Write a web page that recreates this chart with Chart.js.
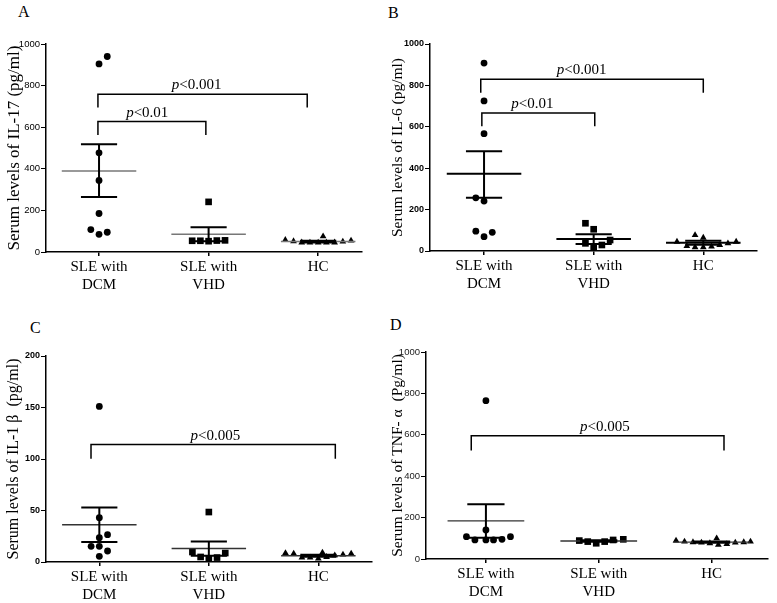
<!DOCTYPE html>
<html>
<head>
<meta charset="utf-8">
<script src="https://cdn.jsdelivr.net/npm/chart.js@4.4.1/dist/chart.umd.min.js"></script>
<style>
  body { margin: 0; background: #fff; width: 777px; height: 603px; overflow: hidden; position: relative; }
  canvas { position: absolute; }
  .tag { position: absolute; font: 16px/1 "Liberation Serif", serif; color: #000; }
</style>
</head>
<body>
<div class="tag" style="left:18px;top:4px">A</div>
<div class="tag" style="left:388px;top:5px">B</div>
<div class="tag" style="left:30px;top:320px">C</div>
<div class="tag" style="left:390px;top:317px">D</div>
<canvas id="panel-a" width="385" height="300" style="left:0;top:0"></canvas>
<canvas id="panel-b" width="392" height="300" style="left:385px;top:0"></canvas>
<canvas id="panel-c" width="385" height="303" style="left:0;top:300px"></canvas>
<canvas id="panel-d" width="392" height="303" style="left:385px;top:300px"></canvas>
<script>
// group labels on the x axis
const groups = [['SLE with', 'DCM'], ['SLE with', 'VHD'], ['HC']];

// A - IL-17 (pg/ml)
const il17Dcm = [904, 940, 477, 344, 185, 108, 85, 95];
const il17DcmSlot = [0, 1, 0, 0, 0, -1, 0, 1];
const il17Vhd = [241, 54, 54, 52, 55, 56];
const il17VhdSlot = [0, -2, -1, 0, 1, 2];
const il17Hc = [58, 52, 46, 45, 45, 75, 45, 46, 50, 55];
const il17HcSlot = [-4, -3, -2, -1, 0, 0.6, 1, 2, 3, 4];
const il17Mean = [389, 85, 50];
const il17Sem = [[265, 518], [52, 119], [46, 54]];

// B - IL-6 (pg/ml)
const il6Dcm = [908, 725, 567, 257, 241, 96, 69, 90];
const il6DcmSlot = [0, 0, 0, -1, 0, -1, 0, 1];
const il6Vhd = [134, 105, 53, 37, 13, 29];
const il6VhdSlot = [-1, 0, 2, -1, 0, 1];
const il6Hc = [45, 24, 77, 18, 64, 18, 21, 29, 37, 45];
const il6HcSlot = [-3.2, -2, -1, -1, 0, 0, 1, 2, 3, 4];
const il6Mean = [373, 58, 40];
const il6Sem = [[257, 482], [34, 81], [30, 50]];

// C - IL-1 beta (pg/ml)
const il1Dcm = [151, 43, 23.6, 26.5, 15.2, 15.2, 10.7, 5.5];
const il1DcmSlot = [0, 0, 0, 1, -1, 0, 1, 0];
const il1Vhd = [48.5, 9.7, 4.9, 3.3, 4.3, 8.7];
const il1VhdSlot = [0, -2, -1, 0, 1, 2];
const il1Hc = [8.7, 8.1, 4.3, 4.3, 3.3, 9.1, 4.9, 6.5, 7.2, 8.1];
const il1HcSlot = [-4, -3, -2, -1, 0, 0.5, 1, 2, 3, 4];
const il1Mean = [36.2, 13, 6];
const il1Sem = [[19.4, 53], [6, 20], [5, 7]];

// D - TNF-alpha (pg/ml)
const tnfDcm = [765, 140, 108, 92, 92, 92, 95, 108];
const tnfDcmSlot = [0, 0, -2.3, -1.3, 0, 0.9, 1.9, 2.9];
const tnfVhd = [89, 84, 76, 84, 92, 95];
const tnfVhdSlot = [-2.3, -1.3, -0.3, 0.7, 1.7, 2.9];
const tnfHc = [89, 84, 81, 79, 76, 100, 68, 72, 79, 81, 84];
const tnfHcSlot = [-4.2, -3.2, -2.2, -1.2, -0.2, 0.6, 0.8, 1.8, 2.8, 3.8, 4.6];
const tnfMean = [184, 87, 82];
const tnfSem = [[103, 265], [83, 91], [79, 85]];

const SERIF = '"Liberation Serif", "Times New Roman", serif';
const SANS = '"Liberation Sans", Arial, sans-serif';

// mean line + SEM whiskers, drawn on top of the points
const meanSem = {
    id: 'meanSem',
    afterDatasetsDraw(chart, args, o) {
        const { ctx, scales: { x, y } } = chart;
        ctx.save();
        o.mean.forEach((m, g) => {
            const c = g + 1;
            const ym = y.getPixelForValue(m);
            ctx.strokeStyle = o.meanColor;
            ctx.lineWidth = o.meanWidth;
            ctx.beginPath();
            ctx.moveTo(x.getPixelForValue(c - 0.34), ym);
            ctx.lineTo(x.getPixelForValue(c + 0.34), ym);
            ctx.stroke();

            const [lo, hi] = o.sem[g];
            const xc = x.getPixelForValue(c);
            const xl = x.getPixelForValue(c - 0.165);
            const xr = x.getPixelForValue(c + 0.165);
            ctx.strokeStyle = '#000';
            ctx.lineWidth = 2;
            ctx.beginPath();
            ctx.moveTo(xc, y.getPixelForValue(lo));
            ctx.lineTo(xc, y.getPixelForValue(hi));
            [lo, hi].forEach(v => {
                ctx.moveTo(xl, y.getPixelForValue(v));
                ctx.lineTo(xr, y.getPixelForValue(v));
            });
            ctx.stroke();
        });
        ctx.restore();
    }
};

// significance brackets with "p<..." labels
const brackets = {
    id: 'brackets',
    afterDraw(chart, args, o) {
        const { ctx, scales: { x, y } } = chart;
        ctx.save();
        ctx.strokeStyle = '#000';
        ctx.lineWidth = 1.5;
        ctx.fillStyle = '#000';
        o.list.forEach(b => {
            const x1 = x.getPixelForValue(b.x1), x2 = x.getPixelForValue(b.x2);
            const yb = y.getPixelForValue(b.y), yl = y.getPixelForValue(b.leg);
            ctx.beginPath();
            ctx.moveTo(x1, yl);
            ctx.lineTo(x1, yb);
            ctx.lineTo(x2, yb);
            ctx.lineTo(x2, yl);
            ctx.stroke();

            const rest = '<' + b.p;
            ctx.font = 'italic 15px ' + SERIF;
            const wp = ctx.measureText('p').width;
            ctx.font = '15px ' + SERIF;
            const wr = ctx.measureText(rest).width;
            const left = x.getPixelForValue(b.tx) - (wp + wr) / 2;
            ctx.textBaseline = 'alphabetic';
            ctx.textAlign = 'left';
            ctx.font = 'italic 15px ' + SERIF;
            ctx.fillText('p', left, yb - 5);
            ctx.font = '15px ' + SERIF;
            ctx.fillText(rest, left + wp, yb - 5);
        });
        ctx.restore();
    }
};

function makePanel(id, p) {
    const shapes = ['circle', 'rect', 'triangle'];
    const radii = [3.4, 4.7, 3.9];
    const datasets = p.values.map((vals, g) => ({
        data: vals.map((v, i) => ({ x: g + 1 + p.slots[g][i] * 0.075, y: v })),
        pointStyle: shapes[g],
        pointRadius: radii[g],
        backgroundColor: '#000',
        borderColor: '#000',
        borderWidth: 0
    }));

    new Chart(document.getElementById(id), {
        type: 'scatter',
        data: { datasets },
        options: {
            responsive: false,
            animation: false,
            layout: { padding: p.pad },
            scales: {
                x: {
                    type: 'linear',
                    min: p.xMin,
                    max: p.xMax,
                    afterBuildTicks: s => { s.ticks = [1, 2, 3].map(v => ({ value: v })); },
                    afterFit: s => { s.height = p.xH; },
                    ticks: {
                        callback: v => groups[v - 1],
                        font: { family: SERIF, size: 15, lineHeight: 1.2 },
                        color: '#000',
                        padding: 2,
                        maxRotation: 0,
                        autoSkip: false
                    },
                    grid: { drawOnChartArea: false, tickLength: 4, color: '#000', lineWidth: 1.5 },
                    border: { color: '#000', width: 1.5 }
                },
                y: {
                    min: 0,
                    max: p.yMax,
                    afterFit: s => { s.width = p.yW; },
                    ticks: {
                        stepSize: p.yStep,
                        callback: v => String(v),
                        font: { family: SANS, size: p.tickSize, weight: p.tickWeight },
                        color: p.tickColor,
                        padding: 1
                    },
                    grid: { drawOnChartArea: false, tickLength: 5, color: '#000', lineWidth: 1 },
                    border: { color: '#000', width: 1.5 },
                    title: {
                        display: true,
                        text: p.yTitle,
                        font: { family: SERIF, size: p.titleSize },
                        color: '#000',
                        padding: { top: 4, bottom: 0 }
                    }
                }
            },
            plugins: {
                legend: { display: false },
                tooltip: { enabled: false },
                meanSem: { mean: p.mean, sem: p.sem, meanColor: p.meanColor, meanWidth: p.meanWidth },
                brackets: { list: p.brackets }
            }
        },
        plugins: [meanSem, brackets]
    });
}

makePanel('panel-a', {
    values: [il17Dcm, il17Vhd, il17Hc],
    slots: [il17DcmSlot, il17VhdSlot, il17HcSlot],
    mean: il17Mean, sem: il17Sem,
    yMax: 1000, yStep: 200,
    yTitle: 'Serum levels of IL-17 (pg/ml)', titleSize: 17,
    tickSize: 9.5, tickWeight: 'normal', tickColor: '#000',
    meanColor: '#777', meanWidth: 1.5,
    xMin: 0.516, xMax: 3.40,
    pad: { top: 44, right: 23, left: 0, bottom: 0 }, yW: 46, xH: 48,
    brackets: [
        { x1: 0.99, x2: 2.90, y: 759, leg: 695, p: '0.001', tx: 1.89 },
        { x1: 0.99, x2: 1.975, y: 627, leg: 563, p: '0.01', tx: 1.44 }
    ]
});

makePanel('panel-b', {
    values: [il6Dcm, il6Vhd, il6Hc],
    slots: [il6DcmSlot, il6VhdSlot, il6HcSlot],
    mean: il6Mean, sem: il6Sem,
    yMax: 1000, yStep: 200,
    yTitle: 'Serum levels of IL-6 (pg/ml)', titleSize: 15.5,
    tickSize: 9, tickWeight: 'bold', tickColor: '#000',
    meanColor: '#000', meanWidth: 2,
    xMin: 0.507, xMax: 3.49,
    pad: { top: 44, right: 20, left: 0, bottom: 0 }, yW: 45, xH: 49,
    brackets: [
        { x1: 0.97, x2: 3.0, y: 830, leg: 764, p: '0.001', tx: 1.89 },
        { x1: 0.98, x2: 2.01, y: 667, leg: 603, p: '0.01', tx: 1.44 }
    ]
});

makePanel('panel-c', {
    values: [il1Dcm, il1Vhd, il1Hc],
    slots: [il1DcmSlot, il1VhdSlot, il1HcSlot],
    mean: il1Mean, sem: il1Sem,
    yMax: 200, yStep: 50,
    yTitle: 'Serum levels of IL-1 β  (pg/ml)', titleSize: 16,
    tickSize: 9, tickWeight: 'bold', tickColor: '#000',
    meanColor: '#333', meanWidth: 1.5,
    xMin: 0.513, xMax: 3.49,
    pad: { top: 56, right: 13, left: 0, bottom: 0 }, yW: 46, xH: 41,
    brackets: [
        { x1: 0.924, x2: 3.155, y: 114, leg: 100.3, p: '0.005', tx: 2.06 }
    ]
});

makePanel('panel-d', {
    values: [tnfDcm, tnfVhd, tnfHc],
    slots: [tnfDcmSlot, tnfVhdSlot, tnfHcSlot],
    mean: tnfMean, sem: tnfSem,
    yMax: 1000, yStep: 200,
    yTitle: 'Serum levels of TNF- α  (Pg/ml)', titleSize: 15.5,
    tickSize: 9.5, tickWeight: 'normal', tickColor: '#222',
    meanColor: '#333', meanWidth: 1.3,
    xMin: 0.469, xMax: 3.5,
    pad: { top: 52, right: 9, left: 0, bottom: 0 }, yW: 41, xH: 44,
    brackets: [
        { x1: 0.87, x2: 3.11, y: 595, leg: 524, p: '0.005', tx: 2.055 }
    ]
});
</script>
</body>
</html>
